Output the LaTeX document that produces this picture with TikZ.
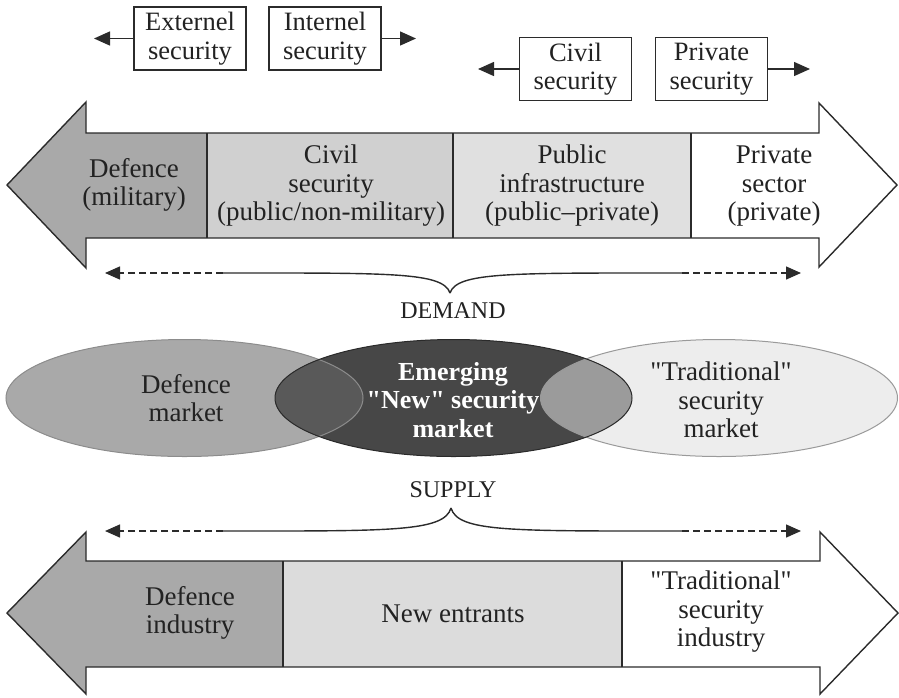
\documentclass[tikz,border=0pt]{standalone}
\usepackage{fontspec}
\setmainfont{Liberation Serif}[Ligatures=TeXOff]
\usetikzlibrary{arrows.meta,shapes.geometric}
\newcommand{\dq}{\symbol{34}}
\definecolor{lineC}{HTML}{2B2B2B}
\definecolor{txtC}{HTML}{222222}
\definecolor{gDef}{HTML}{A9A9A9}
\definecolor{gCiv}{HTML}{D0D0D0}
\definecolor{gPub}{HTML}{E0E0E0}
\definecolor{gNew}{HTML}{DCDCDC}
\definecolor{eDef}{HTML}{A9A9A9}
\definecolor{eDefL}{HTML}{8C8C8C}
\definecolor{eNew}{HTML}{474747}
\definecolor{eNewL}{HTML}{2A2A2A}
\definecolor{eTra}{HTML}{EDEDED}
\definecolor{eTraL}{HTML}{9A9A9A}
\definecolor{ovL}{HTML}{595959}
\definecolor{ovR}{HTML}{9B9B9B}
\begin{document}
\begin{tikzpicture}[x=1pt,y=-1pt,
  txt/.style={align=center, text=txtC, font=\fontsize{27}{28.5}\selectfont, inner sep=0pt},
  smalltxt/.style={align=center, text=txtC, font=\fontsize{24}{26}\selectfont, inner sep=0pt},
  topbox/.style={draw=lineC, line width=1.3pt, fill=white, minimum width=112pt, minimum height=63pt,
    inner sep=0pt, align=center, text=txtC, font=\fontsize{26.5}{28.5}\selectfont},
  tipline/.style={-{Triangle[length=16pt,width=14pt]}, line width=1.4pt, draw=lineC},
  dashtip/.style={-{Triangle[length=15pt,width=13pt]}, line width=1.4pt, draw=lineC,
    dash pattern=on 7pt off 4pt},
  bracel/.style={line width=1.4pt, draw=lineC},
  outl/.style={draw=lineC, line width=1.4pt, line join=miter},
  ell/.style={ellipse, inner sep=0pt, minimum width=357pt, minimum height=117pt},
]
\useasboundingbox (0,0) rectangle (899,697);

% ---------- top boxes ----------
\node[topbox] (ext) at (190,38.5) {Externel\\security};
\node[topbox] (int) at (325,38.5) {Internel\\security};
\node[topbox] (civb) at (575.5,69) {Civil\\security};
\node[topbox] (prib) at (711.5,69) {Private\\security};
\coordinate (extT) at (94,38.5);
\coordinate (intT) at (416,38.5);
\coordinate (civT) at (478,69);
\coordinate (priT) at (810,69);
\draw[tipline] (ext.west) -- (extT);
\draw[tipline] (int.east) -- (intT);
\draw[tipline] (civb.west) -- (civT);
\draw[tipline] (prib.east) -- (priT);

% ---------- top double arrow ----------
\fill[gDef] (7,185) -- (86,102) -- (86,133) -- (207,133) -- (207,238) -- (86,238) -- (86,268) -- cycle;
\fill[gCiv] (207,133) rectangle (453,238);
\fill[gPub] (453,133) rectangle (691,238);
\fill[white] (691,133) -- (819,133) -- (819,103) -- (897,185) -- (819,267) -- (819,238) -- (691,238) -- cycle;
\draw[outl] (7,185) -- (86,102) -- (86,133) -- (819,133) -- (819,103) -- (897,185)
  -- (819,267) -- (819,238) -- (86,238) -- (86,268) -- cycle;
\draw[outl] (207,133) -- (207,238);
\draw[outl] (453,133) -- (453,238);
\draw[outl] (691,133) -- (691,238);

\node[txt] (tdef) at (134,185) {Defence\\(military)};
\node[txt] (tciv) at (331,186) {Civil\\security\\(public/non-military)};
\node[txt] (tpub) at (572,186) {Public\\infrastructure\\(public–private)};
\node[txt] (tpri) at (774,186) {Private\\sector\\(private)};

% ---------- demand brace ----------
\coordinate (dL) at (105,273);
\coordinate (dLs) at (223,273);
\coordinate (dTip) at (450,293);
\coordinate (dRs) at (682,273);
\coordinate (dR) at (801,273);
\draw[dashtip] (dLs) -- (dL);
\draw[dashtip] (dRs) -- (dR);
\draw[bracel] (dLs) .. controls (390,273) and (443,272) .. (dTip);
\draw[bracel] (dTip) .. controls (457,272) and (510,273) .. (dRs);
\node[smalltxt] (demand) at (453,311) {DEMAND};

% ---------- ellipses ----------
\node[ell, fill=eDef] (defm) at (184.5,398) {};
\node[ell, fill=eTra] (tram) at (719,398) {};
\node[ell, fill=eNew] (newm) at (453.5,398) {};
\begin{scope}
  \clip (184.5,398) ellipse [x radius=178.5pt, y radius=58.5pt];
  \fill[ovL] (453.5,398) ellipse [x radius=178.5pt, y radius=58.5pt];
\end{scope}
\begin{scope}
  \clip (719,398) ellipse [x radius=178.5pt, y radius=58.5pt];
  \fill[ovR] (453.5,398) ellipse [x radius=178.5pt, y radius=58.5pt];
\end{scope}
\draw[eDefL, line width=1pt] (184.5,398) ellipse [x radius=178.5pt, y radius=58.5pt];
\draw[eTraL, line width=1pt] (719,398) ellipse [x radius=178.5pt, y radius=58.5pt];
\draw[eNewL, line width=1pt] (453.5,398) ellipse [x radius=178.5pt, y radius=58.5pt];

\node[txt] (tdm) at (186,398) {Defence\\market};
\node[txt, text=white, font=\fontsize{26}{28.5}\selectfont\bfseries] (tnm) at (453,400) {Emerging\\\dq New\dq{} security\\market};
\node[txt] (ttm) at (721,400) {\dq Traditional\dq\\security\\market};

% ---------- supply brace ----------
\node[smalltxt] (supply) at (453,490) {SUPPLY};
\coordinate (sL) at (105,531);
\coordinate (sLs) at (223,531);
\coordinate (sTip) at (451,508);
\coordinate (sRs) at (682,531);
\coordinate (sR) at (801,531);
\draw[dashtip] (sLs) -- (sL);
\draw[dashtip] (sRs) -- (sR);
\draw[bracel] (sLs) .. controls (390,531) and (444,532) .. (sTip);
\draw[bracel] (sTip) .. controls (458,532) and (510,531) .. (sRs);

% ---------- bottom double arrow ----------
\fill[gDef] (7,613) -- (86,532) -- (86,561) -- (283,561) -- (283,667) -- (86,667) -- (86,694) -- cycle;
\fill[gNew] (283,561) rectangle (622,667);
\fill[white] (622,561) -- (820,561) -- (820,532) -- (898,613) -- (820,694) -- (820,667) -- (622,667) -- cycle;
\draw[outl] (7,613) -- (86,532) -- (86,561) -- (820,561) -- (820,532) -- (898,613)
  -- (820,694) -- (820,667) -- (86,667) -- (86,694) -- cycle;
\draw[outl] (283,561) -- (283,667);
\draw[outl] (622,561) -- (622,667);

\node[txt] (bdef) at (190,613) {Defence\\industry};
\node[txt] (bnew) at (453,614) {New entrants};
\node[txt] (btra) at (721,612) {\dq Traditional\dq\\security\\industry};
\end{tikzpicture}
\end{document}
